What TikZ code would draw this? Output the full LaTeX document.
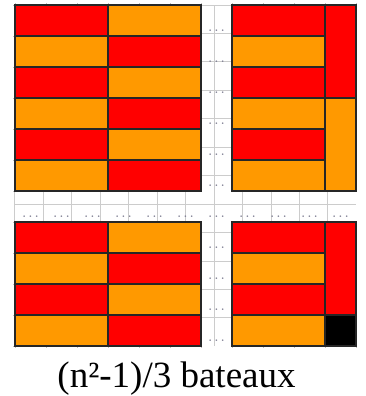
\documentclass[tikz,border=0pt]{standalone}
\usepackage{fontspec}
\setmainfont{Liberation Serif}
\begin{document}
\begin{tikzpicture}[
    x=31pt, y=-31pt,
    bar/.style={draw=black!85, line width=1.4pt},
    dots/.style={font=\ttfamily\bfseries\fontsize{12}{12}\selectfont, text=dotgray, inner sep=0pt, anchor=base}
]

% Define colors
\definecolor{boatred}{RGB}{255,0,0}
\definecolor{boatorange}{RGB}{255,153,0}
\definecolor{dotgray}{RGB}{125,125,145}

% Canvas
\useasboundingbox (-15/31,-5/31) rectangle (351/31,391/31);

% Underlying board grid
\draw[gray!40, line width=1pt] (0,0) grid (11,11);
\foreach \i in {0,...,11} {
    \draw[gray!50] (\i,0) -- (\i,-0.08);
    \draw[gray!50] (\i,11) -- (\i,11.08);
    \draw[gray!50] (0,\i) -- (-0.08,\i);
}

% Horizontal boats (3 cells long)
\foreach \r/\ca/\cb in {0/boatred/boatorange, 1/boatorange/boatred,
                        2/boatred/boatorange, 3/boatorange/boatred,
                        4/boatred/boatorange, 5/boatorange/boatred,
                        7/boatred/boatorange, 8/boatorange/boatred,
                        9/boatred/boatorange, 10/boatorange/boatred} {
    \draw[bar, fill=\ca] (0,\r) rectangle (3,\r+1);
    \draw[bar, fill=\cb] (3,\r) rectangle (6,\r+1);
    \draw[bar, fill=\ca] (7,\r) rectangle (10,\r+1);
}

% Vertical boats in the last column
\draw[bar, fill=boatred] (10,0) rectangle (11,3);
\draw[bar, fill=boatorange] (10,3) rectangle (11,6);
\draw[bar, fill=boatred] (10,7) rectangle (11,10);
\draw[bar, fill=black] (10,10) rectangle (11,11);

% Gaps (dots)
\foreach \r in {0,...,5,7,8,9,10} {
    \node[dots] (col\r) at (6.5,\r+0.86) {...};
}
\foreach \c in {0,...,10} {
    \node[dots] (row\c) at (\c+0.5,6.86) {...};
}

% Caption
\node[font=\fontsize{37}{37}\selectfont, anchor=base, inner sep=0pt] (caption) at (5.21,12.35) {(n²-1)/3 bateaux};

\end{tikzpicture}
\end{document}
